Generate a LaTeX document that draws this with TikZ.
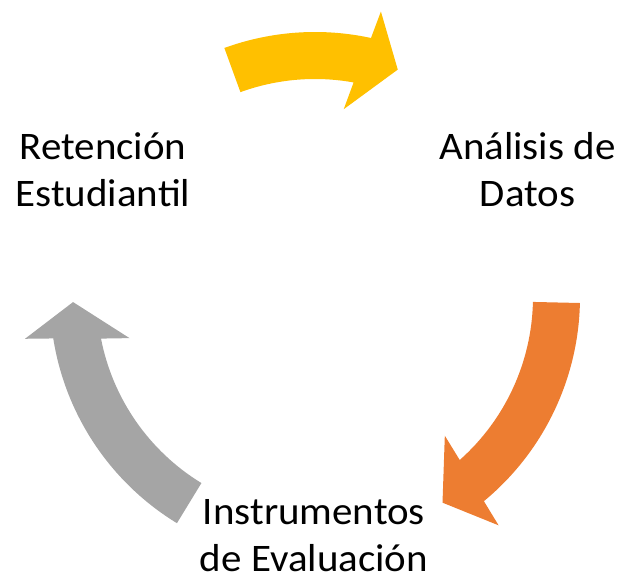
\documentclass[tikz,border=0pt]{standalone}
\usepackage{fontspec}
\setmainfont{Carlito}[FakeStretch=1.05]
\definecolor{arrowyellow}{HTML}{FFC000}
\definecolor{arroworange}{HTML}{ED7D31}
\definecolor{arrowgray}{HTML}{A5A5A5}
\tikzset{steplabel/.style={align=center, font=\fontsize{39}{47}\selectfont, inner sep=0pt, anchor=base}}
\begin{document}
\begin{tikzpicture}[x=1pt,y=1pt]
\useasboundingbox (0,0) rectangle (622,581);
% curved arrows around the cycle centre, all clockwise
\foreach \tail/\tip/\col in {110/70/arrowyellow, -1.3/-58.2/arroworange, 238.6/181.2/arrowgray}
  \fill[\col, shift={(315,284)}] (\tail:265) arc[start angle=\tail, end angle={\tip+7.8}, radius=265pt]
    -- ({\tip+7}:293) -- (\tip:242) -- ({\tip+11.3}:190) -- ({\tip+9.8}:218)
    arc[start angle={\tip+9.8}, end angle=\tail, radius=218pt] -- cycle;

% labels, placed by the baseline of their last line
\node[steplabel] (ret) at (103,374) {Retención\\Estudiantil};
\node[steplabel] (ana) at (527.5,374) {Análisis de\\Datos};
\node[steplabel, text depth=0pt] (ins) at (314,9) {Instrumentos\\de Evaluación};
\end{tikzpicture}
\end{document}
